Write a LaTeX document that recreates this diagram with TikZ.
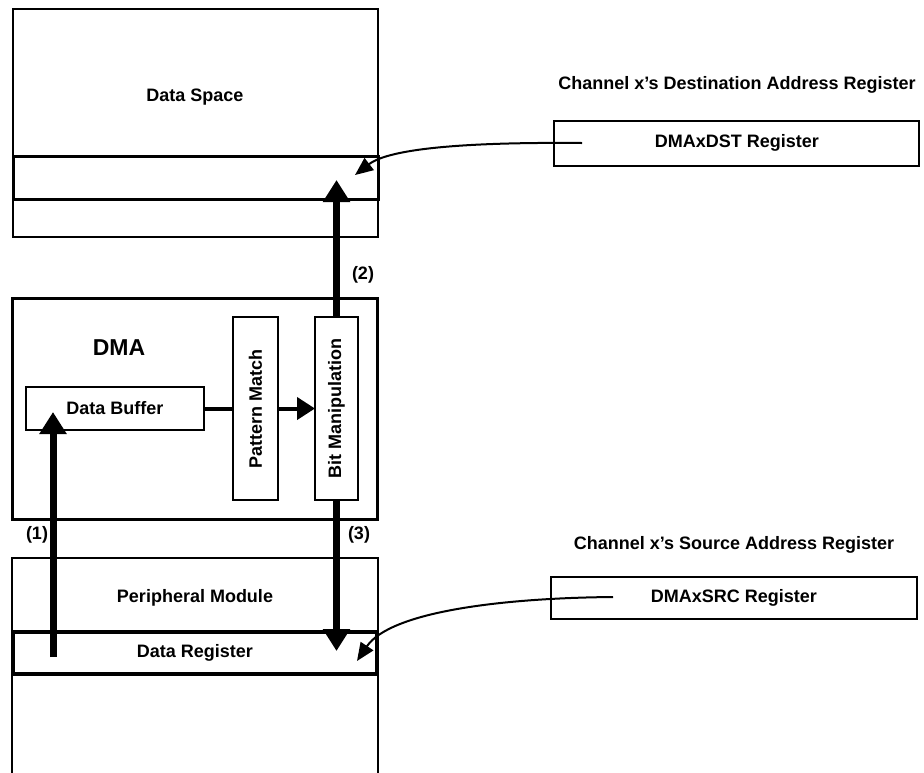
\documentclass[tikz,border=0pt]{standalone}
\usepackage{fontspec}
\setmainfont{Liberation Sans}
\usetikzlibrary{arrows.meta}
\begin{document}
\begin{tikzpicture}[x=1pt,y=-1pt,
  lbl/.style={font=\fontsize{18}{20}\selectfont\bfseries, inner sep=0pt},
  big/.style={font=\fontsize{23}{26}\selectfont\bfseries, inner sep=0pt},
  box/.style={draw, line width=#1, inner sep=0pt, outer sep=0pt, anchor=north west},
  box/.default=2.5pt,
  fat/.style={line width=7pt, -{Triangle[width=26pt,length=22pt]}},
  mid/.style={line width=4pt},
  thin/.style={line width=2pt, -{Triangle[width=15pt,length=18pt]}}
]
\useasboundingbox (0,0) rectangle (924,772);
\clip (0,0) rectangle (924,772);

% Data space
\node[box=2pt, minimum width=365pt, minimum height=228pt] (ds) at (13,9) {};
\node[box=3pt, minimum width=365pt, minimum height=43pt] (dsrow) at (13,156) {};
\node[lbl] (dstxt) at (195,97) {Data Space};

% DMA
\node[box=3pt, minimum width=365pt, minimum height=221pt] (dma) at (12,298) {};
\node[big] (dmatxt) at (119,348) {DMA};
\node[box=2.7pt, minimum width=178pt, minimum height=43pt, anchor=west] (db) at (26,408.5) {};
\node[lbl] (dbtxt) at (115,408.5) {Data Buffer};
\node[box=2.5pt, minimum width=45pt, minimum height=183pt, anchor=center] (pm) at (255.5,408.5) {};
\node[lbl, rotate=90] (pmtxt) at (255.5,408.5) {Pattern Match};
\node[box=2.5pt, minimum width=43pt, minimum height=183pt, anchor=center] (bm) at (336.5,408.5) {};
\node[lbl, rotate=90] (bmtxt) at (336.5,408.5) {Bit Manipulation};

% Peripheral module (open at the bottom)
\coordinate (pmtl) at (12,558);
\coordinate (pmtr) at (378,558);
\draw[line width=2.7pt] (12,790) -- (pmtl) -- (pmtr) -- (378,790);
\node[box=3.3pt, minimum width=364pt, minimum height=42pt] (dr) at (13,632) {};
\node[lbl] (pmodtxt) at (195,598) {Peripheral Module};
\node[lbl] (drtxt) at (195,653) {Data Register};

% Right-hand registers
\node[lbl] (dsttitle) at (737,85) {Channel x’s Destination Address Register};
\node[box=2.3pt, minimum width=365pt, minimum height=45pt] (dst) at (554,121) {};
\node[lbl] (dsttxt) at (737,143) {DMAxDST Register};
\node[lbl] (srctitle) at (734,545) {Channel x’s Source Address Register};
\node[box=2.3pt, minimum width=366pt, minimum height=42pt] (src) at (551,577) {};
\node[lbl] (srctxt) at (734,598) {DMAxSRC Register};

% Labels
\node[lbl] (l1) at (37,535) {(1)};
\node[lbl] (l2) at (363,275) {(2)};
\node[lbl] (l3) at (359,535) {(3)};

% Internal DMA connectors
\draw[mid] (db.east) -- (pm.west);
\draw[mid, -{Triangle[width=22pt,length=18pt]}] (pm.east) -- (bm.west);

% Thick data-flow arrows
\coordinate (a1s) at (53,657);
\coordinate (a1e) at (53,412);
\draw[fat] (a1s) -- (a1e);
\coordinate (a2e) at (336.5,180);
\draw[fat] (bm.north) -- (a2e);
\coordinate (a3e) at (336.5,651);
\draw[fat] (bm.south) -- (a3e);

% Address pointers
\coordinate (dsts) at (582,143);
\coordinate (dste) at (355,175);
\draw[thin] (dsts) .. controls (470,142) and (390,148) .. (dste);
\coordinate (srcs) at (613,597);
\coordinate (srce) at (357,661);
\draw[thin] (srcs) .. controls (500,598) and (390,612) .. (srce);
\end{tikzpicture}
\end{document}
